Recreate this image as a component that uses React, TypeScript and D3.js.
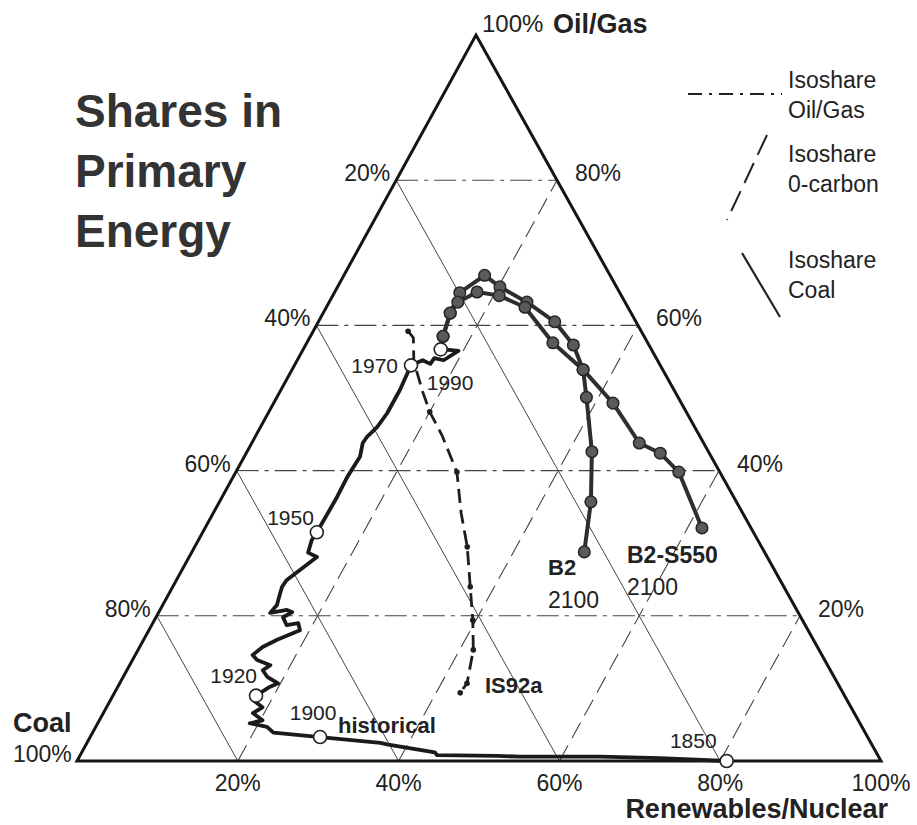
import React, { useEffect, useRef } from "react";
import * as d3 from "d3";

// shares in percent: [oil/gas, renewables+nuclear]; coal is the rest
const historical = [
  [0, 80.8], [0.4, 72.3], [0.6, 64.8], [0.6, 54.8], [0.7, 51.9], [0.8, 44.4], [1.2, 43.9],
  [2.3, 37.4], [2.5, 36.5], [3.3, 28.6], [3.9, 22.5], [4.7, 21.3], [5.2, 18.9], [5.6, 20.3],
  [6.6, 18.6], [7.4, 19.4], [8.4, 17.7], [9.0, 17.8], [10.2, 18.9], [10.7, 19.7], [11.6, 17.9],
  [12.5, 16.9], [13.2, 17.5], [13.9, 15.5], [14.6, 14.6], [15.7, 15.3], [16.7, 16.6],
  [18.0, 18.8], [19.0, 18.1], [18.7, 16.8], [19.8, 15.8], [20.5, 16.6], [20.8, 15.8],
  [20.4, 13.9], [21.5, 14.2], [23.1, 13.8], [24.0, 13.6], [24.9, 13.7], [28.1, 15.9],
  [28.7, 14.5], [30.4, 14.1], [31.5, 14.2], [36.4, 14.3], [39.1, 14.2], [41.9, 14.4],
  [43.8, 13.8], [44.6, 13.9], [46.0, 14.5], [47.9, 14.8], [51.1, 14.8], [54.5, 14.5],
  [55.2, 15.6], [54.7, 16.8], [55.5, 16.9], [55.2, 18.2], [56.5, 19.4], [56.6, 18.5], [56.7, 17.1]
];

const historicalYears = [
  { year: "1850", oil: 0, ren: 80.8 },
  { year: "1900", oil: 3.3, ren: 28.6 },
  { year: "1920", oil: 9.0, ren: 17.8 },
  { year: "1950", oil: 31.5, ren: 14.2 },
  { year: "1970", oil: 54.5, ren: 14.5 },
  { year: "1990", oil: 56.7, ren: 17.1 }
];

const b2 = [
  [56.7, 17.1], [58.5, 16.5], [61.7, 15.8], [64.5, 15.6], [66.9, 17.5], [65.3, 20.2],
  [63.2, 24.6], [60.5, 29.4], [57.3, 33.3], [53.9, 36.2], [50.1, 38.5], [42.6, 42.9],
  [35.7, 46.2], [28.8, 48.8]
];

const b2s550 = [
  [56.7, 17.1], [58.5, 16.5], [61.7, 15.8], [63.2, 16.0], [64.6, 17.7], [64.1, 20.7],
  [62.5, 24.7], [57.6, 30.6], [53.9, 36.2], [49.3, 42.2], [43.8, 48.2], [42.4, 51.5],
  [39.8, 55.1], [32.1, 61.8]
];

const is92a = [
  [59.2, 11.8], [58.3, 12.9], [55.0, 14.6], [52.9, 16.2], [50.8, 17.8], [48.1, 20.0],
  [44.9, 23.1], [39.8, 27.5], [34.2, 30.8], [29.5, 33.9], [24.0, 37.0], [19.4, 39.6],
  [15.3, 41.7], [10.7, 43.2], [9.4, 43.0]
];
const is92aDots = [
  [59.2, 11.8], [48.1, 20.0], [39.8, 27.5], [29.5, 33.9], [24.0, 37.0], [19.4, 39.6],
  [15.3, 41.7], [10.7, 43.2], [9.4, 43.0]
];

const gridTicks = [20, 40, 60, 80];
const bottomTicks = [20, 40, 60, 80, 100];

const titleLines = ["Shares in", "Primary", "Energy"];
const legendItems = [
  { kind: "oil", lines: ["Isoshare", "Oil/Gas"] },
  { kind: "zero", lines: ["Isoshare", "0-carbon"] },
  { kind: "coal", lines: ["Isoshare", "Coal"] }
];

const FONT = "'Liberation Sans', Arial, Helvetica, sans-serif";

export default function App() {
  const ref = useRef(null);

  useEffect(() => {
    const svg = d3.select(ref.current);
    svg.selectAll("*").remove();

    const base = 761, apexY = 35, left = 77, right = 881, apexX = 476;
    const y = d3.scaleLinear().domain([0, 100]).range([base, apexY]);
    const xRen = d3.scaleLinear().domain([0, 100]).range([0, right - left]);
    const xOil = d3.scaleLinear().domain([0, 100]).range([0, apexX - left]);
    const px = (oil, ren) => [left + xRen(ren) + xOil(oil), y(oil)];

    const line = d3.line()
      .x(d => px(d[0], d[1])[0])
      .y(d => px(d[0], d[1])[1]);

    const g = svg.append("g");
    const dashOil = "22,6,4,6";
    const dashZero = "18,8";

    // isoshare grid
    gridTicks.forEach(t => {
      g.append("path").attr("d", line([[t, 0], [t, 100 - t]]))
        .attr("stroke", "#444").attr("stroke-width", 1.1).attr("fill", "none")
        .attr("stroke-dasharray", dashOil);
      g.append("path").attr("d", line([[0, t], [100 - t, t]]))
        .attr("stroke", "#444").attr("stroke-width", 1.1).attr("fill", "none")
        .attr("stroke-dasharray", dashZero);
      g.append("path").attr("d", line([[0, 100 - t], [100 - t, 0]]))
        .attr("stroke", "#444").attr("stroke-width", 1).attr("fill", "none");
    });

    // triangle
    g.append("path").attr("d", line([[0, 0], [100, 0], [0, 100]]) + "Z")
      .attr("fill", "none").attr("stroke", "#151515").attr("stroke-width", 3)
      .attr("stroke-linejoin", "miter");

    // IS92a
    g.append("path").attr("d", line(is92a))
      .attr("fill", "none").attr("stroke", "#1e1e1e").attr("stroke-width", 2.8)
      .attr("stroke-dasharray", "14,7");
    g.selectAll(".is92a_dot").data(is92aDots).join("circle")
      .attr("class", "is92a_dot")
      .attr("cx", d => px(d[0], d[1])[0]).attr("cy", d => px(d[0], d[1])[1])
      .attr("r", 2.8).attr("fill", "#1e1e1e");

    // historical
    g.append("path").attr("d", line(historical))
      .attr("fill", "none").attr("stroke", "#1a1a1a").attr("stroke-width", 3.8)
      .attr("stroke-linejoin", "round").attr("stroke-linecap", "round");

    // scenarios
    [b2, b2s550].forEach((s, i) => {
      g.append("path").attr("d", line(s))
        .attr("fill", "none").attr("stroke", "#2e2e2e").attr("stroke-width", 4)
        .attr("stroke-linejoin", "round");
      g.selectAll(".sdot" + i).data(s.slice(1)).join("circle")
        .attr("class", "sdot" + i)
        .attr("cx", d => px(d[0], d[1])[0]).attr("cy", d => px(d[0], d[1])[1])
        .attr("r", 5.8).attr("fill", "#5a5a5a").attr("stroke", "#262626").attr("stroke-width", 1.5);
    });

    // year markers
    const yearLabelPos = {
      "1850": { dx: -10, dy: -13, anchor: "end" },
      "1900": { dx: -7, dy: -17, anchor: "middle" },
      "1920": { dx: 1, dy: -13, anchor: "end" },
      "1950": { dx: -3, dy: -7, anchor: "end" },
      "1970": { dx: -13, dy: 8, anchor: "end" },
      "1990": { dx: -14, dy: 41, anchor: "start" }
    };
    historicalYears.forEach(d => {
      const [cx, cy] = px(d.oil, d.ren);
      g.append("circle").attr("cx", cx).attr("cy", cy).attr("r", 6.5)
        .attr("fill", "#fff").attr("stroke", "#222").attr("stroke-width", 1.6);
      const p = yearLabelPos[d.year];
      g.append("text").attr("x", cx + p.dx).attr("y", cy + p.dy)
        .attr("text-anchor", p.anchor).style("font-family", FONT)
        .style("font-size", "21px").attr("fill", "#222").text(d.year);
    });

    const txt = (x, yy, s, size, bold, anchor, color) =>
      g.append("text").attr("x", x).attr("y", yy).attr("text-anchor", anchor || "start")
        .style("font-family", FONT).style("font-size", size + "px")
        .style("font-weight", bold ? "bold" : "normal").attr("fill", color || "#222").text(s);

    // edge tick labels
    gridTicks.forEach(t => {
      const [lx, ly] = px(t, 0);
      txt(lx - 6, ly + 1, (100 - t) + "%", 23, false, "end");
      const [rx, ry] = px(t, 100 - t);
      txt(rx + 18, ry + 1, t + "%", 23, false, "start");
    });
    bottomTicks.forEach(t => {
      const [bx, by] = px(0, t);
      txt(bx, by + 30, t + "%", 23, false, "middle");
    });

    // corners
    const [ax, ay] = px(100, 0);
    txt(ax + 6, ay - 3, "100%", 24, false);
    txt(ax + 77, ay - 2, "Oil/Gas", 27, true);
    txt(13, 732, "Coal", 27, true);
    txt(13, 762, "100%", 23, false);
    txt(888, 818, "Renewables/Nuclear", 27, true, "end");

    // scenario labels
    txt(338, 733, "historical", 22, true);
    txt(485, 693, "IS92a", 22, true);
    txt(548, 575, "B2", 22, true);
    txt(548, 608, "2100", 23, false);
    txt(627, 563, "B2-S550", 23, true);
    txt(627, 595, "2100", 23, false);

    // title
    titleLines.forEach((s, i) => txt(75, 127 + i * 60, s, 46, true, "start", "#333"));

    // legend
    const legendY = [88, 162, 268];
    legendItems.forEach((item, i) => {
      item.lines.forEach((s, j) => txt(788, legendY[i] + j * 30, s, 23, false));
    });
    g.append("line").attr("x1", 688).attr("y1", 94).attr("x2", 782).attr("y2", 94)
      .attr("stroke", "#222").attr("stroke-width", 2.2).attr("stroke-dasharray", "14,7,3,7");
    g.append("line").attr("x1", 767).attr("y1", 135).attr("x2", 727).attr("y2", 220)
      .attr("stroke", "#222").attr("stroke-width", 2).attr("stroke-dasharray", "22,9");
    g.append("line").attr("x1", 742).attr("y1", 253).attr("x2", 780).attr("y2", 317)
      .attr("stroke", "#222").attr("stroke-width", 2.2);
  }, []);

  return (
    <svg ref={ref} width={917} height={825}
      style={{ position: "absolute", left: 0, top: 0, background: "#fff" }} />
  );
}
